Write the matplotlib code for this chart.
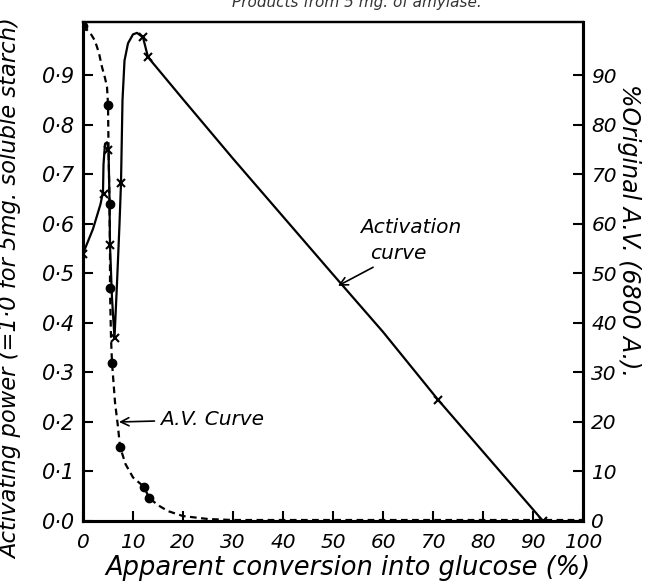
import matplotlib
matplotlib.use("Agg")
import matplotlib.pyplot as plt

# ---- data ----
act_x = [0, 2, 3.5, 4.0, 4.1, 4.4, 4.8, 5.1, 5.3, 5.4, 5.8, 6.3, 6.8, 7.3, 7.6, 7.9, 8.3, 9, 10, 10.8, 12, 13,
         20, 30, 40, 50, 60, 71, 80, 92]
act_y = [0.54, 0.59, 0.64, 0.665, 0.72, 0.762, 0.765, 0.75, 0.65, 0.557, 0.45, 0.37, 0.48, 0.60, 0.683, 0.85,
         0.93, 0.965, 0.983, 0.986, 0.977, 0.937, 0.852, 0.732, 0.615, 0.498, 0.382, 0.245, 0.14, 0.0]
act_mx = [0, 4.1, 5.0, 5.4, 6.3, 7.6, 12, 13, 71, 92]
act_my = [0.54, 0.66, 0.75, 0.557, 0.37, 0.683, 0.977, 0.937, 0.245, 0.0]

av_x = [0, 1.5, 2.4, 3.2, 3.8, 4.4, 4.8, 5.0, 5.1, 5.3, 5.4, 5.4, 5.6, 5.8, 6.4, 7.0, 7.4, 8.5, 10, 12.2, 13.2,
        15, 17, 20, 25, 30, 100]
av_y = [100, 98.5, 97, 94.5, 91.7, 89.5, 87.7, 84.2, 76, 64, 55, 47, 37, 32, 24, 19, 15, 11.5, 8.8, 6.9, 4.7,
        3.2, 2.0, 1.0, 0.4, 0.2, 0.2]
av_mx = [0, 5.0, 5.4, 5.4, 5.8, 7.4, 12.2, 13.2]
av_my = [100, 84, 64, 47, 32, 15, 6.9, 4.7]

x_ticks = list(range(0, 101, 10))
left_ticks = [i / 10 for i in range(10)]
left_labels = ["0·%d" % i for i in range(10)]
right_ticks = list(range(0, 91, 10))

plt.rcParams['font.family'] = ['DejaVu Sans']
plt.rcParams['font.style'] = 'italic'

fig = plt.figure(figsize=(6.48, 5.82), dpi=100)
ax = fig.add_axes([83 / 648, 1 - 521 / 582, 500 / 648, 499 / 582])
ax.set_xlim(0, 100)
ax.set_ylim(0, 1.008)

ax.plot(act_x, act_y, color='black', lw=1.6, solid_capstyle='round', zorder=3)
ax.plot(act_mx, act_my, ls='none', marker='x', color='black', ms=6, mew=1.5, zorder=4)

ax.plot(av_x, [v / 100 for v in av_y], color='black', lw=1.6, ls=(0, (3, 2)), zorder=3)
ax.plot(av_mx, [v / 100 for v in av_my], ls='none', marker='o', color='black', ms=6, zorder=4)

ax.set_xticks(x_ticks)
ax.set_xticklabels([str(t) for t in x_ticks], fontsize=14.5)
ax.set_yticks(left_ticks)
ax.set_yticklabels(left_labels, fontsize=15)
ax.tick_params(direction='in', length=7, width=1.5, pad=6)
ax.tick_params(axis='x', pad=9)

ax2 = ax.twinx()
ax2.set_ylim(0, 100.8)
ax2.set_yticks(right_ticks)
ax2.set_yticklabels([str(t) for t in right_ticks], fontsize=14.5)
ax2.tick_params(direction='in', length=7, width=1.5, pad=6)

for a in (ax, ax2):
    a.spines['left'].set_linewidth(2.2)
    a.spines['bottom'].set_linewidth(2.2)
    a.spines['right'].set_linewidth(2.2)
    a.spines['top'].set_linewidth(1.6)

ax.set_xlabel("Apparent conversion into glucose (%)", fontsize=18.5)
ax.xaxis.set_label_coords((348 - 83) / 500, -(555 - 521) / 499)
ax.set_ylabel("Activating power (=1·0 for 5mg. soluble starch)", fontsize=16.3)
ax.yaxis.set_label_coords(-(83 - 22) / 500, (521 - 289) / 499)
ax2.set_ylabel("%Original A.V. (6800 A.).", fontsize=17, rotation=-90, va='center')
ax2.yaxis.set_label_coords((629 - 83) / 500, (521 - 230) / 499)

ax.annotate("A.V. Curve", xy=(7.2, 0.2), xytext=(15.4, 0.205), fontsize=14.5, va='center',
            arrowprops=dict(arrowstyle='->', color='black', lw=1.2, shrinkA=2, shrinkB=0))
ax.text(55.5, 0.592, "Activation", fontsize=14.5, va='center')
ax.annotate("curve", xy=(51, 0.475), xytext=(57.5, 0.54), fontsize=14.5, va='center',
            arrowprops=dict(arrowstyle='->', color='black', lw=1.2, shrinkA=2, shrinkB=0))

fig.text(0.55, 0.995, "Products from 5 mg. of amylase.", fontsize=11, ha='center', va='center',
         color='#333333')

fig.savefig("out.png", dpi=100)
